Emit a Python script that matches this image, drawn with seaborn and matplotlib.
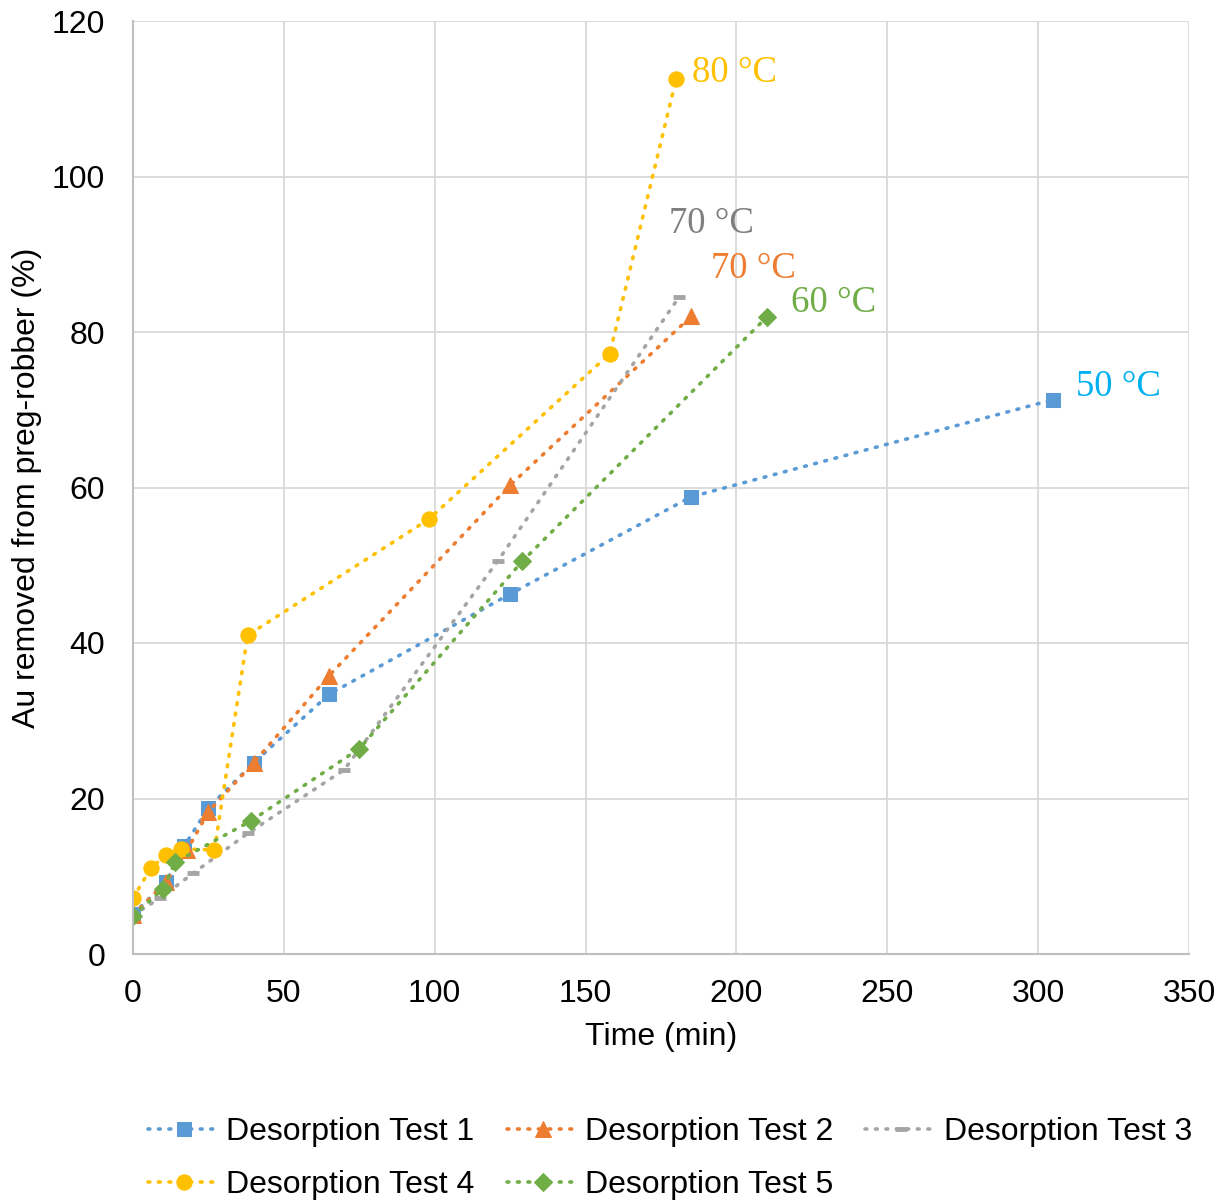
import matplotlib
matplotlib.use("Agg")
import matplotlib.pyplot as plt
import seaborn as sns
import pandas as pd

# Data
t1_x = [0, 11, 17, 25, 40, 65, 125, 185, 305]
t1_y = [5.1, 9.3, 13.9, 18.8, 24.6, 33.4, 46.3, 58.8, 71.3]
t2_x = [0, 11, 18, 25, 40, 65, 125, 185]
t2_y = [5.0, 9.3, 13.4, 18.3, 24.6, 35.8, 60.3, 82.0]
t3_x = [0, 9, 20, 38, 70, 121, 181]
t3_y = [5.0, 7.2, 10.4, 15.5, 23.7, 50.6, 84.5]
t4_x = [0, 6, 11, 16, 27, 38, 98, 158, 180]
t4_y = [7.2, 11.1, 12.7, 13.5, 13.4, 41.0, 55.9, 77.2, 112.5]
t5_x = [0, 10, 14, 39, 75, 129, 210]
t5_y = [4.9, 8.4, 11.8, 17.1, 26.4, 50.5, 81.9]

series_names = ["Desorption Test 1", "Desorption Test 2", "Desorption Test 3",
                "Desorption Test 4", "Desorption Test 5"]
temp_labels = ["80 °C", "70 °C", "70 °C", "60 °C", "50 °C"]
temp_pos = [(185.3, 113.3), (177.7, 93.9), (191.6, 88.1), (218.1, 83.7), (312.6, 73.0)]
temp_colors = ["#FFC000", "#7F7F7F", "#ED7D31", "#70AD47", "#00B0F0"]

x_ticks = [0, 50, 100, 150, 200, 250, 300, 350]
y_ticks = [0, 20, 40, 60, 80, 100, 120]

sns.set_theme(style="white")
plt.rcParams['font.family'] = ['Liberation Sans', 'DejaVu Sans']

fig = plt.figure(figsize=(12.27, 12), dpi=100)
ax = fig.add_axes([0.1084, 0.205, 0.9690 - 0.1084, 0.9825 - 0.205])

styles = [
    dict(color="#5B9BD5", marker="s", markersize=10.5),
    dict(color="#ED7D31", marker="^", markersize=11.5),
    dict(color="#A5A5A5", marker="_", markersize=9, markeredgewidth=3.5),
    dict(color="#FFC000", marker="o", markersize=11),
    dict(color="#70AD47", marker="D", markersize=9),
]
data = [(t1_x, t1_y), (t2_x, t2_y), (t3_x, t3_y), (t4_x, t4_y), (t5_x, t5_y)]

handles = []
for (xs, ys), name, st in zip(data, series_names, styles):
    df = pd.DataFrame({"x": xs, "y": ys})
    sns.lineplot(data=df, x="x", y="y", ax=ax, errorbar=None, sort=False,
                 linestyle=(0, (0.5, 2.4)), linewidth=2.6, dash_capstyle="round",
                 markeredgecolor=st["color"], label=name, **st)
    handles.append(ax.get_lines()[-1])

for lab, (px, py), c in zip(temp_labels, temp_pos, temp_colors):
    ax.text(px, py, lab, color=c, fontsize=26.5, family=["Liberation Serif", "DejaVu Serif"],
            ha="left", va="center")

ax.set_xlim(0, 350)
ax.set_ylim(0, 120)
ax.set_xticks(x_ticks)
ax.set_yticks(y_ticks)
ax.grid(True, color="#D9D9D9", linewidth=1.3)
for s in ["top", "right"]:
    ax.spines[s].set_visible(False)
for s in ["left", "bottom"]:
    ax.spines[s].set_color("#BFBFBF")
    ax.spines[s].set_linewidth(1.5)
ax.tick_params(axis="x", length=0, labelsize=23, colors="black", pad=28.5)
ax.tick_params(axis="y", length=0, labelsize=23, colors="black", pad=20)
for lbl in ax.get_xticklabels():
    lbl.set_va("center")
ax.set_xlabel("Time (min)", fontsize=23, color="black")
ax.set_ylabel("Au removed from preg-robber (%)", fontsize=23, color="black")
ax.xaxis.set_label_coords(0.5, -0.089)
ax.xaxis.label.set_va("center")
ax.yaxis.set_label_coords(-0.1004, 0.5)
ax.yaxis.label.set_va("center")
ax.get_legend().remove()

order = [0, 3, 1, 4, 2]
fig.legend([handles[i] for i in order], [series_names[i] for i in order],
           ncol=3, loc="center", bbox_to_anchor=(0.546, 0.0345), frameon=False,
           fontsize=23, handlelength=2.25, columnspacing=1.0, handletextpad=0.2,
           labelspacing=0.72, labelcolor="black")

fig.savefig("out.png", dpi=100)
